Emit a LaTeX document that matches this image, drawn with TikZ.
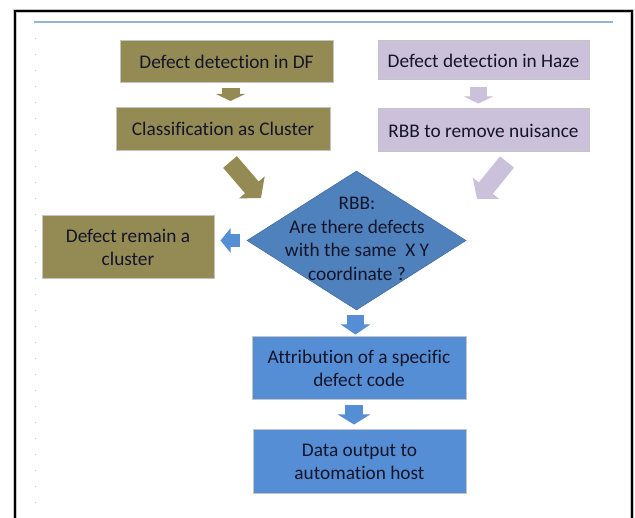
\documentclass[tikz,border=0pt]{standalone}
\usepackage{fontspec}
\setmainfont{Carlito}[Ligatures={NoCommon}]
\usetikzlibrary{shapes.geometric,arrows.meta,calc}
\definecolor{oliveB}{HTML}{948A54}
\definecolor{lavB}{HTML}{CCC1DA}
\definecolor{boxblue}{HTML}{558ED5}
\definecolor{diablue}{HTML}{4F81BD}
\definecolor{txt}{HTML}{15152A}
\definecolor{edgegray}{HTML}{C4C4C4}
\definecolor{rule}{HTML}{95B3D7}
\definecolor{dotc}{HTML}{C9C6E2}
\tikzset{
  box/.style={rectangle, draw=edgegray, line width=1pt, text=txt, align=center,
    font=\fontsize{19.3}{23.5}\selectfont, inner sep=0pt},
  olivebox/.style={box, fill=oliveB},
  lavbox/.style={box, fill=lavB},
  bluebox/.style={box, fill=boxblue},
  blockarrow/.style={line width=#1, line cap=butt},
}
\begin{document}
\begin{tikzpicture}[x=1pt,y=-1pt]
\useasboundingbox (0,0) rectangle (635,518);
\fill[white] (0,0) rectangle (635,518);
% frame
\draw[gray!45, line width=4pt] (15,11) rectangle (632,560);
\draw[black, line width=2pt] (15,11) rectangle (632,560);
\draw[rule, line width=1.5pt] (34,22) -- (613,22);
\foreach \k in {0,...,29} {\fill[dotc] (34.5,38+16*\k) rectangle (35.8,39.3+16*\k);}

% nodes
\node[olivebox, minimum width=213, minimum height=42] (df) at (226.5,61.5) {Defect detection in DF};
\node[lavbox, minimum width=211, minimum height=39] (haze) at (483.5,60.5) {Defect detection in Haze};
\node[olivebox, minimum width=214, minimum height=43] (cls) at (223,129) {Classification as Cluster};
\node[lavbox, minimum width=211, minimum height=43] (rbb) at (483.5,130.5) {RBB to remove nuisance};
\node[diamond, fill=diablue, draw=diablue!85!black, line width=0.6pt, inner sep=0pt,
      minimum width=219, minimum height=139] (dia) at (356.5,240.5) {};
\node[text=txt, align=center, font=\fontsize{19.3}{23.5}\selectfont, inner sep=0pt]
      (diatext) at (357,239) {RBB:\\Are there defects\\with the same~ X Y\\coordinate ?};
\node[olivebox, minimum width=172, minimum height=63] (remain) at (128,247.5) {Defect remain a\\cluster};
\node[bluebox, minimum width=214, minimum height=63] (attr) at (359,368.5) {Attribution of a specific\\defect code};
\node[bluebox, minimum width=213, minimum height=64] (data) at (359.5,462) {Data output to\\automation host};

% free ends of the diagonal arrows
\coordinate (o1) at (230,162);
\coordinate (o2) at (261,198);
\coordinate (l1) at (507,162);
\coordinate (l2) at (477,199);

% connectors
\draw[oliveB, blockarrow=18pt, -{Triangle[length=7pt,width=29pt]}, shorten <=5pt, shorten >=6pt]
  ($(df.south)+(4,0)$) -- ($(df.south |- cls.north)+(4,0)$);
\draw[lavB, blockarrow=17pt, -{Triangle[length=7pt,width=29pt]}, shorten <=7pt, shorten >=5pt]
  ($(haze.south)+(-5,0)$) -- ($(haze.south |- rbb.north)+(-5,0)$);
\draw[oliveB, blockarrow=18pt, -{Triangle[length=14pt,width=33pt]}] (o1) -- (o2);
\draw[lavB, blockarrow=18pt, -{Triangle[length=14pt,width=33pt]}] (l1) -- (l2);
\draw[boxblue, blockarrow=13pt, -{Triangle[length=10pt,width=24pt]}, shorten <=7pt, shorten >=6pt]
  (dia.west) -- (dia.west -| remain.east);
\draw[boxblue, blockarrow=17pt, -{Triangle[length=10pt,width=29pt]}, shorten <=5pt, shorten >=2pt]
  ($(dia.south)+(-1,0)$) -- ($(dia.south |- attr.north)+(-1,0)$);
\draw[boxblue, blockarrow=18pt, -{Triangle[length=10pt,width=32pt]}, shorten <=5pt, shorten >=5pt]
  ($(attr.south)+(-5,0)$) -- ($(attr.south |- data.north)+(-5,0)$);
\end{tikzpicture}
\end{document}
